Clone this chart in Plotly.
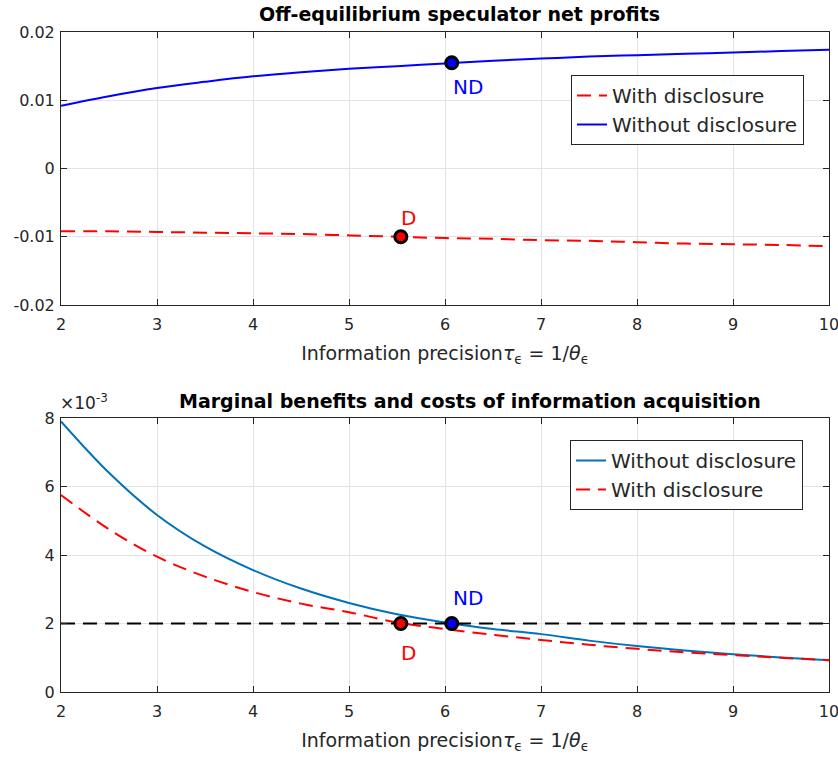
import plotly.graph_objects as go

# ---- data ----
tau = [2, 2.5, 3, 3.5, 4, 4.5, 5, 5.5, 6, 6.5, 7, 7.5, 8, 8.5, 9, 9.5, 10]

profit_without = [0.0092, 0.0106, 0.0118, 0.0127, 0.0135, 0.0141, 0.0146, 0.0150, 0.0154,
                  0.0158, 0.0161, 0.0164, 0.0166, 0.0168, 0.0170, 0.0172, 0.0174]
profit_with = [-0.0092, -0.0092, -0.0093, -0.0094, -0.0095, -0.0096, -0.0098, -0.0100, -0.0102,
               -0.0103, -0.0105, -0.0106, -0.0108, -0.0110, -0.0111, -0.0112, -0.0114]

mb_without = [7.9e-3, 6.4e-3, 5.17e-3, 4.25e-3, 3.56e-3, 3.02e-3, 2.6e-3, 2.27e-3, 2.03e-3,
              1.84e-3, 1.69e-3, 1.5e-3, 1.34e-3, 1.21e-3, 1.1e-3, 1.01e-3, 0.93e-3]
mb_with = [5.75e-3, 4.75e-3, 3.95e-3, 3.37e-3, 2.92e-3, 2.58e-3, 2.33e-3, 2.03e-3, 1.84e-3,
           1.67e-3, 1.52e-3, 1.38e-3, 1.26e-3, 1.16e-3, 1.08e-3, 1.0e-3, 0.93e-3]
cost = 2e-3

tau_D, tau_ND = 5.54, 6.07
profit_D, profit_ND = -0.0100, 0.0155

x_ticks = [2, 3, 4, 5, 6, 7, 8, 9, 10]
y1_ticks = [-0.02, -0.01, 0, 0.01, 0.02]
y1_labels = ["-0.02", "-0.01", "0", "0.01", "0.02"]
y2_ticks = [0, 2e-3, 4e-3, 6e-3, 8e-3]
y2_labels = ["0", "2", "4", "6", "8"]

RED = "#FF0000"
BLUE = "#0000FF"
MBLUE = "#0072BD"
FONT = "Liberation Sans"
WFONT = "DejaVu Sans"
DASH = "14px,8px"

fig = go.Figure()

# ---- top panel ----
fig.add_trace(go.Scatter(x=tau, y=profit_with, mode="lines", name="With disclosure",
                         line=dict(color=RED, width=2, dash=DASH, shape="spline"),
                         xaxis="x", yaxis="y", legend="legend"))
fig.add_trace(go.Scatter(x=tau, y=profit_without, mode="lines", name="Without disclosure",
                         line=dict(color=BLUE, width=2, shape="spline"),
                         xaxis="x", yaxis="y", legend="legend"))
fig.add_trace(go.Scatter(x=[tau_ND], y=[profit_ND], mode="markers", showlegend=False,
                         marker=dict(color=BLUE, size=12, line=dict(color="black", width=3)),
                         xaxis="x", yaxis="y"))
fig.add_trace(go.Scatter(x=[tau_D], y=[profit_D], mode="markers", showlegend=False,
                         marker=dict(color=RED, size=12, line=dict(color="black", width=3)),
                         xaxis="x", yaxis="y"))

# ---- bottom panel ----
fig.add_trace(go.Scatter(x=tau, y=mb_without, mode="lines", name="Without disclosure",
                         line=dict(color=MBLUE, width=2, shape="spline"),
                         xaxis="x2", yaxis="y2", legend="legend2"))
fig.add_trace(go.Scatter(x=tau, y=mb_with, mode="lines", name="With disclosure",
                         line=dict(color=RED, width=2, dash=DASH, shape="spline"),
                         xaxis="x2", yaxis="y2", legend="legend2"))
fig.add_trace(go.Scatter(x=[tau[0], tau[-1]], y=[cost, cost], mode="lines", showlegend=False,
                         line=dict(color="black", width=2, dash=DASH),
                         xaxis="x2", yaxis="y2"))
fig.add_trace(go.Scatter(x=[tau_D], y=[cost], mode="markers", showlegend=False,
                         marker=dict(color=RED, size=12, line=dict(color="black", width=3)),
                         xaxis="x2", yaxis="y2"))
fig.add_trace(go.Scatter(x=[tau_ND], y=[cost], mode="markers", showlegend=False,
                         marker=dict(color=BLUE, size=12, line=dict(color="black", width=3)),
                         xaxis="x2", yaxis="y2"))

W, H = 838, 761
xdom = [61 / W, 829 / W]
y1dom = [1 - 305 / H, 1 - 32 / H]
y2dom = [1 - 692 / H, 1 - 418 / H]

axis_common = dict(showline=True, linecolor="#262626", linewidth=1, mirror="ticks",
                   ticks="inside", ticklen=6, tickcolor="#262626", automargin=False,
                   ticklabeloverflow="allow",
                   showgrid=True, gridcolor="#E3E3E3", gridwidth=1, zeroline=False,
                   tickfont=dict(family=WFONT, size=16, color="#262626"))

xlabel = "Information precision<i>τ</i><sub>ϵ</sub> = 1/<i>θ</i><sub>ϵ</sub>"
xtitle = dict(text=xlabel, standoff=13, font=dict(family=WFONT, size=19, color="#262626"))

fig.update_layout(
    width=W, height=H, margin=dict(l=0, r=0, t=0, b=0, autoexpand=False),
    paper_bgcolor="white", plot_bgcolor="white",
    font=dict(family=FONT, size=14, color="#262626"),
    xaxis=dict(domain=xdom, range=[2, 10], tickvals=x_ticks, anchor="y",
               ticklabelstandoff=5, title=xtitle, **axis_common),
    yaxis=dict(domain=y1dom, range=[-0.02, 0.02], tickvals=y1_ticks, ticktext=y1_labels,
               anchor="x", ticklabelstandoff=2, **axis_common),
    xaxis2=dict(domain=xdom, range=[2, 10], tickvals=x_ticks, anchor="y2",
                ticklabelstandoff=5, title=xtitle, **axis_common),
    yaxis2=dict(domain=y2dom, range=[0, 8e-3], tickvals=y2_ticks, ticktext=y2_labels,
                anchor="x2", ticklabelstandoff=2, **axis_common),
    legend=dict(x=571 / W, y=1 - 75 / H, xanchor="left", yanchor="top",
                bgcolor="white", bordercolor="#262626", borderwidth=1,
                font=dict(family=WFONT, size=20, color="#262626"), tracegroupgap=0),
    legend2=dict(x=570 / W, y=1 - 440 / H, xanchor="left", yanchor="top",
                 bgcolor="white", bordercolor="#262626", borderwidth=1,
                 font=dict(family=WFONT, size=20, color="#262626"), tracegroupgap=0),
    annotations=[
        dict(text="<b>Off-equilibrium speculator net profits</b>", x=460 / W, y=1 - 14 / H,
             xref="paper", yref="paper", showarrow=False, xanchor="center", yanchor="middle",
             font=dict(family=WFONT, size=19, color="black")),
        dict(text="<b>Marginal benefits and costs of information acquisition</b>", x=470 / W,
             y=1 - 401 / H, xref="paper", yref="paper", showarrow=False, xanchor="center",
             yanchor="middle", font=dict(family=WFONT, size=19, color="black")),
        dict(text="×10<sup>-3</sup>", x=58 / W, y=1 - 415 / H, xref="paper", yref="paper",
             showarrow=False, xanchor="left", yanchor="bottom",
             font=dict(family=WFONT, size=17, color="#262626")),
        dict(text="ND", x=tau_ND, y=profit_ND, xref="x", yref="y", showarrow=False,
             xshift=16, yshift=-24, font=dict(family=WFONT, size=20, color=BLUE)),
        dict(text="D", x=tau_D, y=profit_D, xref="x", yref="y", showarrow=False,
             xshift=8, yshift=19, font=dict(family=WFONT, size=20, color=RED)),
        dict(text="ND", x=tau_ND, y=cost, xref="x2", yref="y2", showarrow=False,
             xshift=16, yshift=26, font=dict(family=WFONT, size=20, color=BLUE)),
        dict(text="D", x=tau_D, y=cost, xref="x2", yref="y2", showarrow=False,
             xshift=8, yshift=-29, font=dict(family=WFONT, size=20, color=RED)),
    ],
)

fig.write_html("out.html")
